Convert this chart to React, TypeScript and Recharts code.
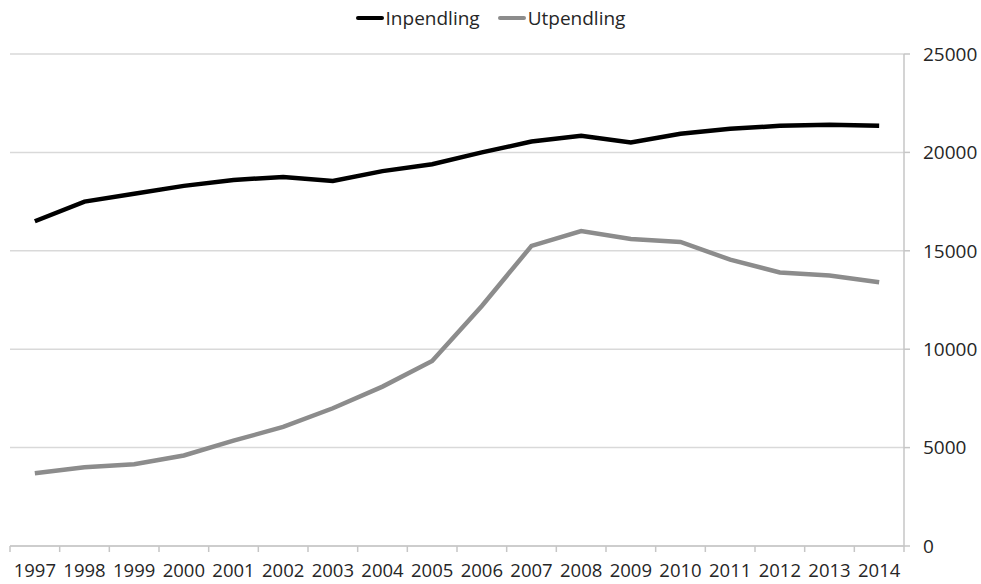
import React from "react";
import { LineChart, Line, XAxis, YAxis, CartesianGrid, Legend } from "recharts";

const years = ["1997","1998","1999","2000","2001","2002","2003","2004","2005","2006","2007","2008","2009","2010","2011","2012","2013","2014"];
const inpendling = [16500,17500,17900,18300,18600,18750,18550,19050,19400,20000,20550,20850,20500,20950,21200,21350,21400,21350];
const utpendling = [3700,4000,4150,4600,5350,6050,7000,8100,9400,12200,15250,16000,15600,15450,14550,13900,13750,13400];
const yTicks = [0,5000,10000,15000,20000,25000];

const data = years.map((y, i) => ({ idx: i, year: y, Inpendling: inpendling[i], Utpendling: utpendling[i] }));

const W = 981, H = 584;
const M = { top: 54, right: 0, bottom: 0, left: 10 };
const Y_W = 77;
const X_H = 38;
const STEP = (W - M.left - M.right - Y_W) / years.length;
const FONT = "'Open Sans', sans-serif";
const TXT = "#262626";

const YearTick = (props: any) => {
  const { x, y, payload, index } = props;
  const last = index === years.length - 1;
  return (
    <g>
      <line x1={x - STEP / 2} x2={x - STEP / 2} y1={y} y2={y + 6} stroke="#c6c6c6" strokeWidth={1.5} />
      {last && <line x1={x + STEP / 2} x2={x + STEP / 2} y1={y} y2={y + 6} stroke="#c6c6c6" strokeWidth={1.5} />}
      <text x={x} y={y + 31} textAnchor="middle" fontSize={18.5} fontFamily={FONT} fill={TXT}>
        {years[payload.value]}
      </text>
    </g>
  );
};

const series = [
  { key: "Inpendling", color: "#000000" },
  { key: "Utpendling", color: "#8c8c8c" },
];

const LegendBox = () => (
  <div style={{ display: "flex", justifyContent: "center", alignItems: "center", fontFamily: FONT, fontSize: 19, color: TXT, gap: 18 }}>
    {series.map((s) => (
      <div key={s.key} style={{ display: "flex", alignItems: "center" }}>
        <span style={{ display: "inline-block", width: 28, height: 4, background: s.color, marginRight: 2, borderRadius: 2 }} />
        <span>{s.key}</span>
      </div>
    ))}
  </div>
);

export default function App() {
  return (
    <div>
      <style>{`body{margin:0;background:#fff}`}</style>
      <LineChart width={W} height={H} data={data} margin={M}>
        <CartesianGrid vertical={false} stroke="#d9d9d9" strokeWidth={1.5} />
        <XAxis
          dataKey="idx"
          type="number"
          domain={[-0.5, years.length - 0.5]}
          ticks={years.map((_, i) => i)}
          interval={0}
          height={X_H}
          tickLine={false}
          tickSize={0}
          tickMargin={0}
          axisLine={{ stroke: "#c6c6c6", strokeWidth: 1.5 }}
          tick={<YearTick />}
        />
        <YAxis
          orientation="right"
          width={Y_W}
          domain={[0, 25000]}
          ticks={yTicks}
          interval={0}
          tickSize={6}
          tickMargin={13}
          tickLine={{ stroke: "#c6c6c6", strokeWidth: 1.5 }}
          axisLine={{ stroke: "#c6c6c6", strokeWidth: 1.5 }}
          tick={{ fontSize: 19, fontFamily: FONT, fill: TXT }}
        />
        <Legend verticalAlign="middle" align="center" layout="horizontal" wrapperStyle={{ top: 5, left: 0, width: W }} content={<LegendBox />} />
        {series.map((s) => (
          <Line key={s.key} type="linear" dataKey={s.key} stroke={s.color} strokeWidth={4.5} dot={false} isAnimationActive={false} />
        ))}
      </LineChart>
    </div>
  );
}
